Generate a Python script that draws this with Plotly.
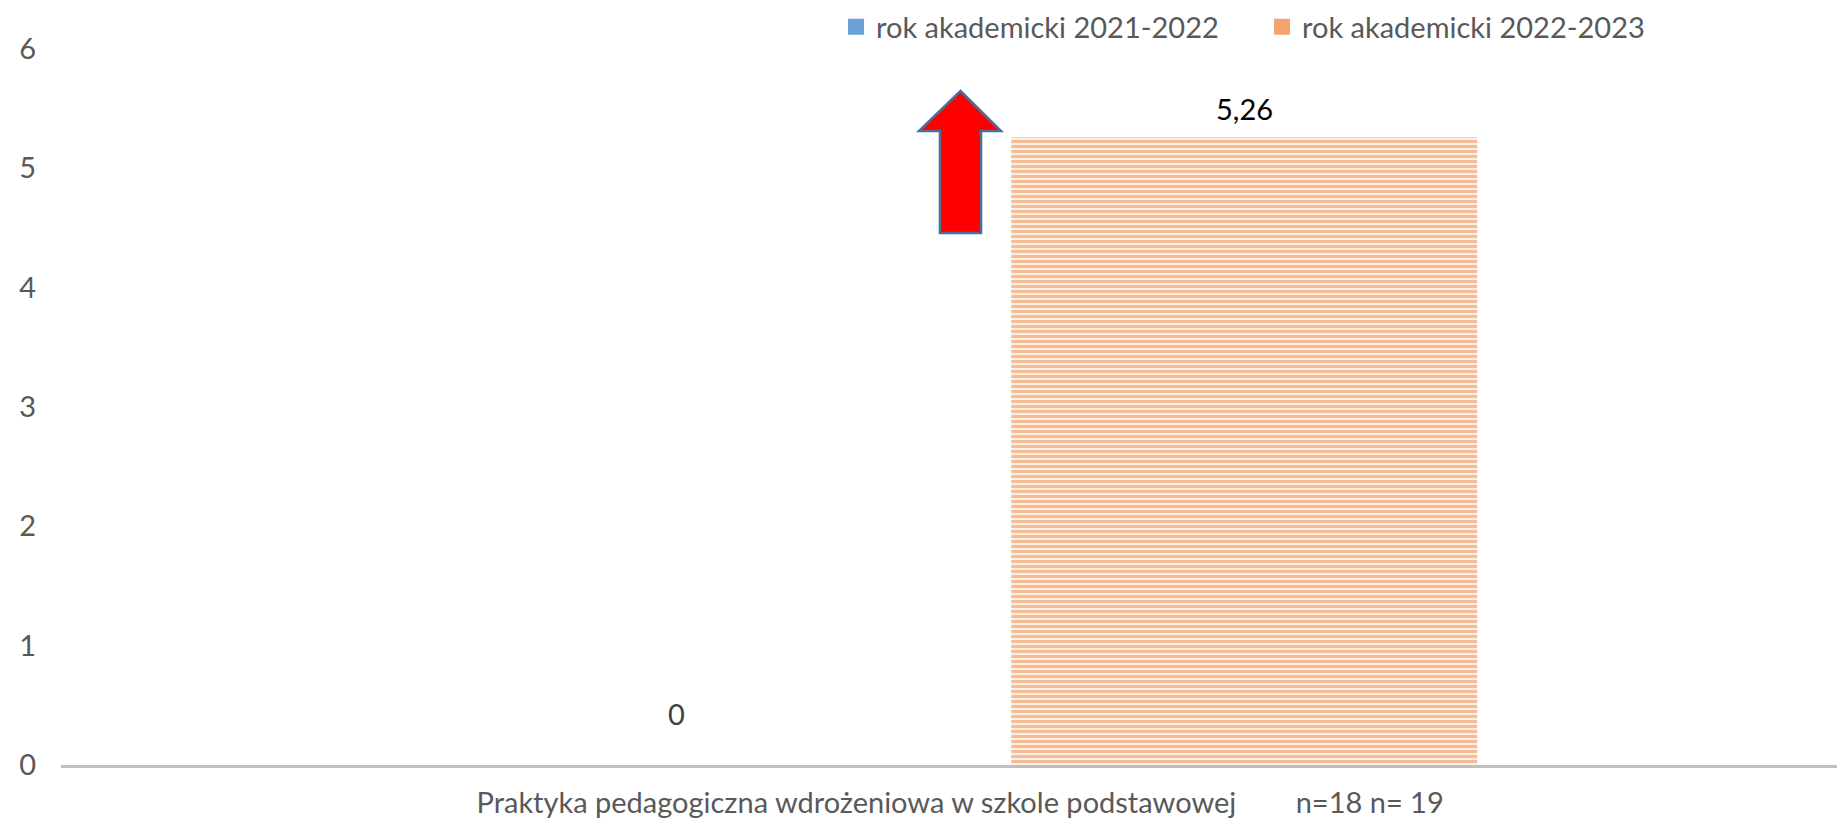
import plotly.graph_objects as go

# ---- data ----
categories = ["Praktyka pedagogiczna wdrożeniowa w szkole podstawowej" + "\u00a0" * 8 + "n=18 n= 19"]
series_names = ["rok akademicki 2021-2022", "rok akademicki 2022-2023"]
values_2021 = [0]
values_2022 = [5.26]
y_ticks = [0, 1, 2, 3, 4, 5, 6]

# ---- style ----
OFF = 8  # page body margin of the html page
W, H = 1845 - OFF, 821 - OFF
ML, MR, MT, MB = 61 - OFF, 0, 49 - OFF, 821 - 765
PW, PH = W - ML - MR, H - MT - MB
FONT = "Lato, 'Open Sans', sans-serif"
FS = 29
GRAY = "#595959"
BLUE = "#5B9BD5"
ORANGE = "#ED7D31"
BARGAP = 0.363
BARGROUPGAP = 0.18
XSHIFT_RANGE = 0.004

def fmt(v):
    return ("%g" % v).replace(".", ",")

fig = go.Figure()
fig.add_trace(go.Bar(
    name=series_names[0], x=categories, y=values_2021, showlegend=False,
    marker=dict(color=BLUE, line=dict(width=0),
                pattern=dict(shape="-", fgcolor=BLUE, bgcolor="white", size=5, solidity=0.7)),
    hoverinfo="skip",
))
fig.add_trace(go.Bar(
    name=series_names[1], x=categories, y=values_2022, showlegend=False,
    marker=dict(color=ORANGE, line=dict(width=0),
                pattern=dict(shape="-", fgcolor="#EC7A2E", bgcolor="white", size=5, solidity=0.7)),
    hoverinfo="skip",
))
# legend entries (larger swatches like the original)
for name, col in [(series_names[0], "#6A9FD8"), (series_names[1], "rgba(237,125,49,0.7)")]:
    fig.add_trace(go.Scatter(
        name=name, x=[categories[0]], y=[None], mode="markers",
        marker=dict(symbol="square", size=18, color=col, line=dict(width=0)),
        hoverinfo="skip",
    ))

# value labels as annotations (positioned like the Excel labels)
slot_px = (1 - BARGAP) / 2 * PW
label_specs = [
    (values_2021, -slot_px / 2, 52, "#404040"),
    (values_2022, slot_px / 2, 29, "#000000"),
]
annotations = []
for vals, xs, ys, col in label_specs:
    for c, v in zip(categories, vals):
        annotations.append(dict(
            x=c, y=v, xref="x", yref="y", xshift=xs, yshift=ys,
            text=fmt(v), showarrow=False, yanchor="middle", xanchor="center",
            font=dict(family=FONT, size=FS, color=col),
        ))

# red arrow decoration (page pixel -> paper)
def pp(px, py):
    return (px - OFF - ML) / PW, (H - MB - (py - OFF)) / PH

pts = [(960.5, 91), (1001, 131), (981, 131), (981, 233), (940, 233), (940, 131), (919, 131)]
path = "M " + " L ".join("%.5f,%.5f" % pp(x, y) for x, y in pts) + " Z"
shapes = [dict(type="path", xref="paper", yref="paper", path=path,
               fillcolor="#FF0000", line=dict(color="#4A6F97", width=2.5), layer="above")]

fig.update_layout(
    width=W, height=H,
    margin=dict(l=ML, r=MR, t=MT, b=MB, pad=0, autoexpand=False),
    paper_bgcolor="white", plot_bgcolor="white",
    barmode="group", bargap=BARGAP, bargroupgap=BARGROUPGAP,
    font=dict(family=FONT, size=FS, color=GRAY),
    showlegend=True,
    legend=dict(orientation="h", xref="container", yref="container",
                x=(836 - OFF) / W, y=1 - (27 - OFF) / H,
                xanchor="left", yanchor="middle",
                entrywidth=381, entrywidthmode="pixels",
                itemsizing="trace",
                font=dict(family=FONT, size=FS, color=GRAY),
                bgcolor="rgba(0,0,0,0)"),
    annotations=annotations,
    shapes=shapes,
    xaxis=dict(type="category", range=[-0.5 - XSHIFT_RANGE, 0.5 - XSHIFT_RANGE],
               showline=True, linecolor="#BFBFBF", linewidth=3,
               showgrid=False, zeroline=False, ticks="",
               tickfont=dict(family=FONT, size=FS, color=GRAY),
               ticklabelstandoff=10, fixedrange=True),
    yaxis=dict(range=[0, 6], tickvals=y_ticks, ticktext=[str(t) for t in y_ticks],
               showline=False, showgrid=False, zeroline=False, ticks="",
               tickfont=dict(family=FONT, size=FS, color=GRAY),
               ticklabelstandoff=24, fixedrange=True),
)

fig.write_html("out.html", config={"displayModeBar": False})
